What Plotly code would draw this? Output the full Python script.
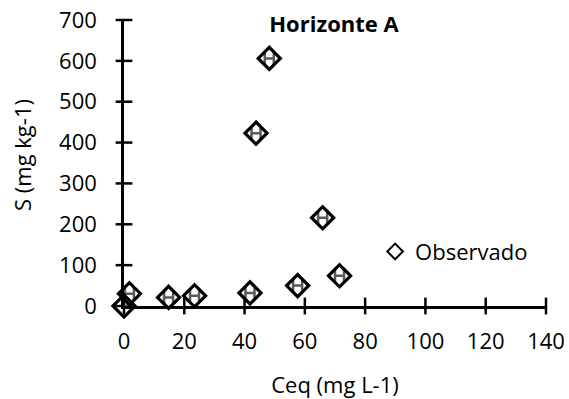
import plotly.graph_objects as go

# Adsorption data, Horizonte A
ceq = [0.0, 1.8, 14.8, 23.4, 41.8, 43.8, 48.2, 57.6, 65.9, 71.5]
s_obs = [0.0, 30.0, 21.0, 25.0, 32.0, 423.0, 606.0, 50.0, 216.0, 74.0]
ceq_err = [1.5, 1.5, 1.5, 1.5, 1.5, 1.5, 1.5, 1.5, 1.5, 1.5]

x_ticks = [0, 20, 40, 60, 80, 100, 120, 140]
y_ticks = [0, 100, 200, 300, 400, 500, 600, 700]

FONT = "Open Sans, Lato, sans-serif"

fig = go.Figure()

# cross-style tick marks straddling both axis lines
fig.add_trace(go.Scatter(
    x=x_ticks, y=[y_ticks[0]] * len(x_ticks), mode="markers",
    marker=dict(symbol="line-ns", size=12,
                line=dict(width=2.5, color="black")),
    showlegend=False, hoverinfo="skip", cliponaxis=False,
))
fig.add_trace(go.Scatter(
    x=[x_ticks[0]] * len(y_ticks), y=y_ticks, mode="markers",
    marker=dict(symbol="line-ew", size=12,
                line=dict(width=2.5, color="black")),
    showlegend=False, hoverinfo="skip", cliponaxis=False,
))

fig.add_trace(go.Scatter(
    x=ceq, y=s_obs, mode="markers", name="Observado",
    marker=dict(symbol="diamond-open", size=17, color="black",
                line=dict(width=3.2, color="black")),
    error_x=dict(type="data", array=ceq_err, visible=True,
                 color="#5a5a5a", thickness=2.5, width=6),
    cliponaxis=False,
))

axis_common = dict(showgrid=False, zeroline=False, color="black",
                   automargin=False, ticks="", showline=True,
                   linewidth=2.5, linecolor="black")

fig.update_layout(
    width=569, height=399,
    margin=dict(l=124, r=23, t=20, b=93),
    paper_bgcolor="white", plot_bgcolor="white",
    font=dict(family=FONT, size=22, color="black"),
    title=dict(text="<b>Horizonte A</b>", x=0.587, xanchor="center",
               y=0.94, yanchor="middle",
               font=dict(family=FONT, size=22, color="black")),
    xaxis=dict(range=[0, 140], tickvals=x_ticks, ticklabelstandoff=14,
               title=dict(text="Ceq (mg L-1)", standoff=24,
                          font=dict(size=22)),
               **axis_common),
    yaxis=dict(range=[0, 700], tickvals=y_ticks, ticklabelstandoff=20,
               **axis_common),
    annotations=[dict(
        text="S (mg kg-1)", textangle=-90, showarrow=False,
        xref="paper", yref="paper", x=0, y=0.528,
        xanchor="center", yanchor="middle", xshift=-102,
        font=dict(family=FONT, size=22, color="black"),
    )],
    legend=dict(x=0.595, y=0.19, xanchor="left", yanchor="middle",
                bgcolor="rgba(0,0,0,0)", itemsizing="constant",
                font=dict(family=FONT, size=22, color="black")),
    showlegend=True,
)

fig.write_html("out.html")
